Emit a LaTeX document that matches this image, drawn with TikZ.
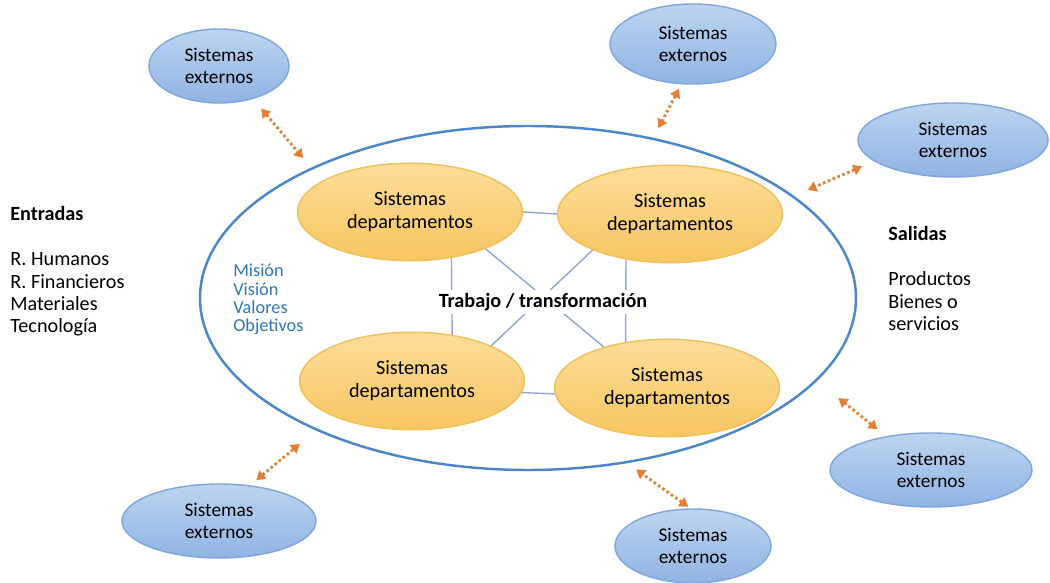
\documentclass[tikz,border=0pt]{standalone}
\usepackage{fontspec}
\setmainfont{Carlito}
\usetikzlibrary{arrows.meta,shapes.geometric}
\definecolor{orgline}{HTML}{4A86C8}
\definecolor{depttop}{HTML}{FCDD9A}
\definecolor{deptbottom}{HTML}{F7C660}
\definecolor{deptline}{HTML}{EFC05A}
\definecolor{exttop}{HTML}{BCD4F0}
\definecolor{extbottom}{HTML}{8FB4E3}
\definecolor{extline}{HTML}{7EA6D9}
\definecolor{linkblue}{HTML}{8EA5D6}
\definecolor{arroworange}{HTML}{E67E35}
\definecolor{valueblue}{HTML}{2E75B6}
\begin{document}
\begin{tikzpicture}
    [org/.style={ellipse,draw=orgline,line width=1.4pt,minimum width=13.12cm,minimum height=6.88cm},
    dept/.style={ellipse,draw=deptline,top color=depttop,bottom color=deptbottom,thick,
    inner sep=0pt,minimum width=4.5cm,minimum height=1.95cm,align=center,font=\fontsize{11.5}{13}\selectfont},
    external/.style={ellipse,draw=extline,top color=exttop,bottom color=extbottom,thick,
    inner sep=0pt,minimum height=1.48cm,align=center,font=\fontsize{11}{12.5}\selectfont},
    link/.style={draw=linkblue,line width=0.8pt},
    exchange/.style={draw=arroworange,line width=1.6pt,dash pattern=on 1.5pt off 1.5pt,
    {Triangle[length=5pt,width=6pt]}-{Triangle[length=5pt,width=6pt]}},
    sidetext/.style={align=left,inner sep=0pt,anchor=north west,font=\fontsize{11.5}{12.8}\selectfont}]
    \useasboundingbox (0,0) rectangle (21,11.66);
    \node (org) [org] at (10.56,5.70) {};
    \node (dept 1) [dept] at (8.2,7.42) {Sistemas\\departamentos};
    \node (dept 2) [dept] at (13.4,7.38) {Sistemas\\departamentos};
    \node (dept 3) [dept] at (8.24,4.04) {Sistemas\\departamentos};
    \node (dept 4) [dept] at (13.34,3.9) {Sistemas\\departamentos};
    \node (ext 1) [external,minimum width=2.8cm] at (4.38,10.34) {Sistemas\\externos};
    \node (ext 2) [external,minimum width=3.32cm,minimum height=1.6cm] at (13.86,10.78) {Sistemas\\externos};
    \node (ext 3) [external,minimum width=3.8cm] at (19.06,8.86) {Sistemas\\externos};
    \node (ext 4) [external,minimum width=4.04cm] at (18.62,2.26) {Sistemas\\externos};
    \node (ext 5) [external,minimum width=3.12cm] at (13.86,0.74) {Sistemas\\externos};
    \node (ext 6) [external,minimum width=3.88cm] at (4.38,1.24) {Sistemas\\externos};
    \draw[link] (dept 1.east) -- (dept 2.west);
    \draw[link] (dept 3.-6) -- (dept 4.183);
    \draw[link] (dept 1.-48) -- (dept 3.49);
    \draw[link] (dept 2.-134) -- (dept 4.132);
    \draw[link] (dept 1.-26) -- (dept 4.147);
    \draw[link] (dept 2.205) -- (dept 3.24);
    \node (work) [fill=white,inner sep=2pt,font=\bfseries\fontsize{11.5}{13}\selectfont] at (10.86,5.62) {Trabajo / transformación};
    \draw[exchange,shorten <=0.25cm,shorten >=0.25cm] (ext 1.-44) -- (org.149);
    \draw[exchange,shorten <=0.1cm,shorten >=0.22cm] (ext 2.-106) -- (org.52);
    \draw[exchange,shorten <=0.26cm,shorten >=0.3cm] (ext 3.195) -- (org.21);
    \draw[exchange,shorten <=0.22cm,shorten >=0.55cm] (ext 4.143) -- (org.-16);
    \draw[exchange,shorten <=0.05cm,shorten >=0.22cm] (ext 5.94) -- (org.-59);
    \draw[exchange,shorten <=0.16cm,shorten >=0.42cm] (ext 6.49) -- (org.212);
    \node (inputs) [sidetext] at (0.2,7.54) {\textbf{Entradas}\\[12.8pt]R. Humanos\\R. Financieros\\Materiales\\Tecnología};
    \node (outputs) [sidetext] at (17.76,7.14) {\textbf{Salidas}\\[12.8pt]Productos\\Bienes o\\servicios};
    \node (values) [sidetext,text=valueblue,font=\fontsize{10.4}{10.4}\selectfont] at (4.66,6.38) {Misión\\Visión\\Valores\\Objetivos};
\end{tikzpicture}
\end{document}
